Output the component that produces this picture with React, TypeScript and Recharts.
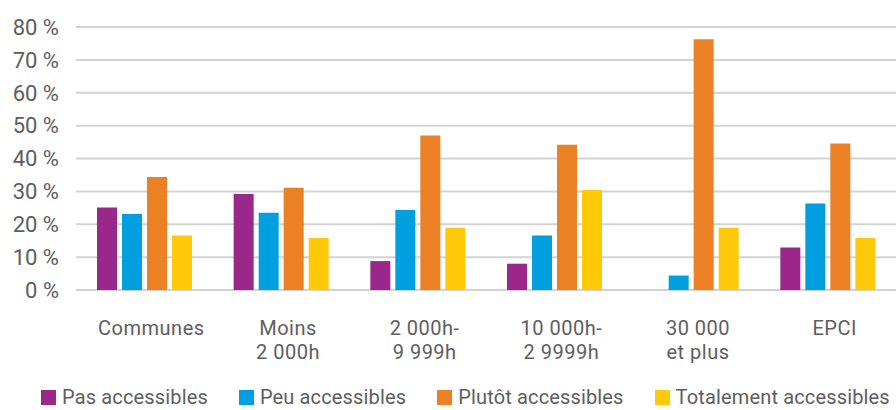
import React from "react";
import { BarChart, Bar, XAxis, YAxis, CartesianGrid, Legend } from "recharts";

const categories = ["Communes", "Moins\n2 000h", "2 000h-\n9 999h", "10 000h-\n2 9999h", "30 000\net plus", "EPCI"];
const pasAccessibles = [25.1, 29.2, 8.8, 8.0, 0, 12.9];
const peuAccessibles = [23.1, 23.5, 24.3, 16.6, 4.4, 26.3];
const plutotAccessibles = [34.4, 31.1, 47.0, 44.2, 76.3, 44.6];
const totalementAccessibles = [16.6, 15.8, 18.9, 30.4, 18.9, 15.8];
const yTicks = [0, 10, 20, 30, 40, 50, 60, 70, 80];

const seriesNames = ["Pas accessibles", "Peu accessibles", "Plutôt accessibles", "Totalement accessibles"];
const seriesKeys = ["pas", "peu", "plutot", "total"];
const colors = ["#9A288B", "#00A0E0", "#EB8024", "#FFC808"];

const data = categories.map((name, i) => ({
  name,
  pas: pasAccessibles[i],
  peu: peuAccessibles[i],
  plutot: plutotAccessibles[i],
  total: totalementAccessibles[i],
}));

const TEXT = "#5d5e5e";

const CategoryTick = (props: any) => {
  const { x, y, payload } = props;
  const lines = String(payload.value).split("\n");
  const cx = x + 7;
  return (
    <text x={cx} y={y + 37} textAnchor="middle" fill={TEXT} fontSize={20} letterSpacing={0.5}>
      {lines.map((l, i) => (
        <tspan key={i} x={cx} dy={i === 0 ? 0 : 24}>
          {l}
        </tspan>
      ))}
    </text>
  );
};

const LegendContent = () => (
  <div style={{ height: 20, position: "relative", overflow: "visible" }}>
    <div style={{ display: "flex", alignItems: "center", paddingLeft: 41, marginTop: -3, whiteSpace: "nowrap" }}>
      {seriesNames.map((n, i) => (
        <div key={n} style={{ display: "flex", alignItems: "center", marginRight: 31, lineHeight: "20px" }}>
          <span style={{ display: "inline-block", width: 15, height: 15, background: colors[i], marginRight: 6 }} />
          <span style={{ fontSize: 20, color: TEXT, letterSpacing: 0.15 }}>{n}</span>
        </div>
      ))}
    </div>
  </div>
);

export default function App() {
  return (
    <div style={{ width: 896, height: 410, fontFamily: "Roboto, sans-serif", overflow: "hidden" }}>
      <style>{"body{margin:0}"}</style>
      <BarChart width={896} height={410} data={data} margin={{ top: 27, right: 0, left: 0, bottom: 0 }} barSize={20} barGap={5}>
        <CartesianGrid vertical={false} stroke="#d3d3d3" strokeWidth={2} />
        <XAxis dataKey="name" interval={0} tickLine={false} axisLine={false} height={100} tick={<CategoryTick />} />
        <YAxis
          width={76}
          domain={[0, 80]}
          ticks={yTicks}
          interval={0}
          tickLine={false}
          axisLine={false}
          tickMargin={11}
          tickFormatter={(v: number) => `${v} %`}
          tick={{ fill: TEXT, fontSize: 22 }}
        />
        <Legend verticalAlign="bottom" height={20} content={<LegendContent />} />
        {seriesKeys.map((k, i) => (
          <Bar key={k} dataKey={k} name={seriesNames[i]} fill={colors[i]} isAnimationActive={false} />
        ))}
      </BarChart>
    </div>
  );
}
